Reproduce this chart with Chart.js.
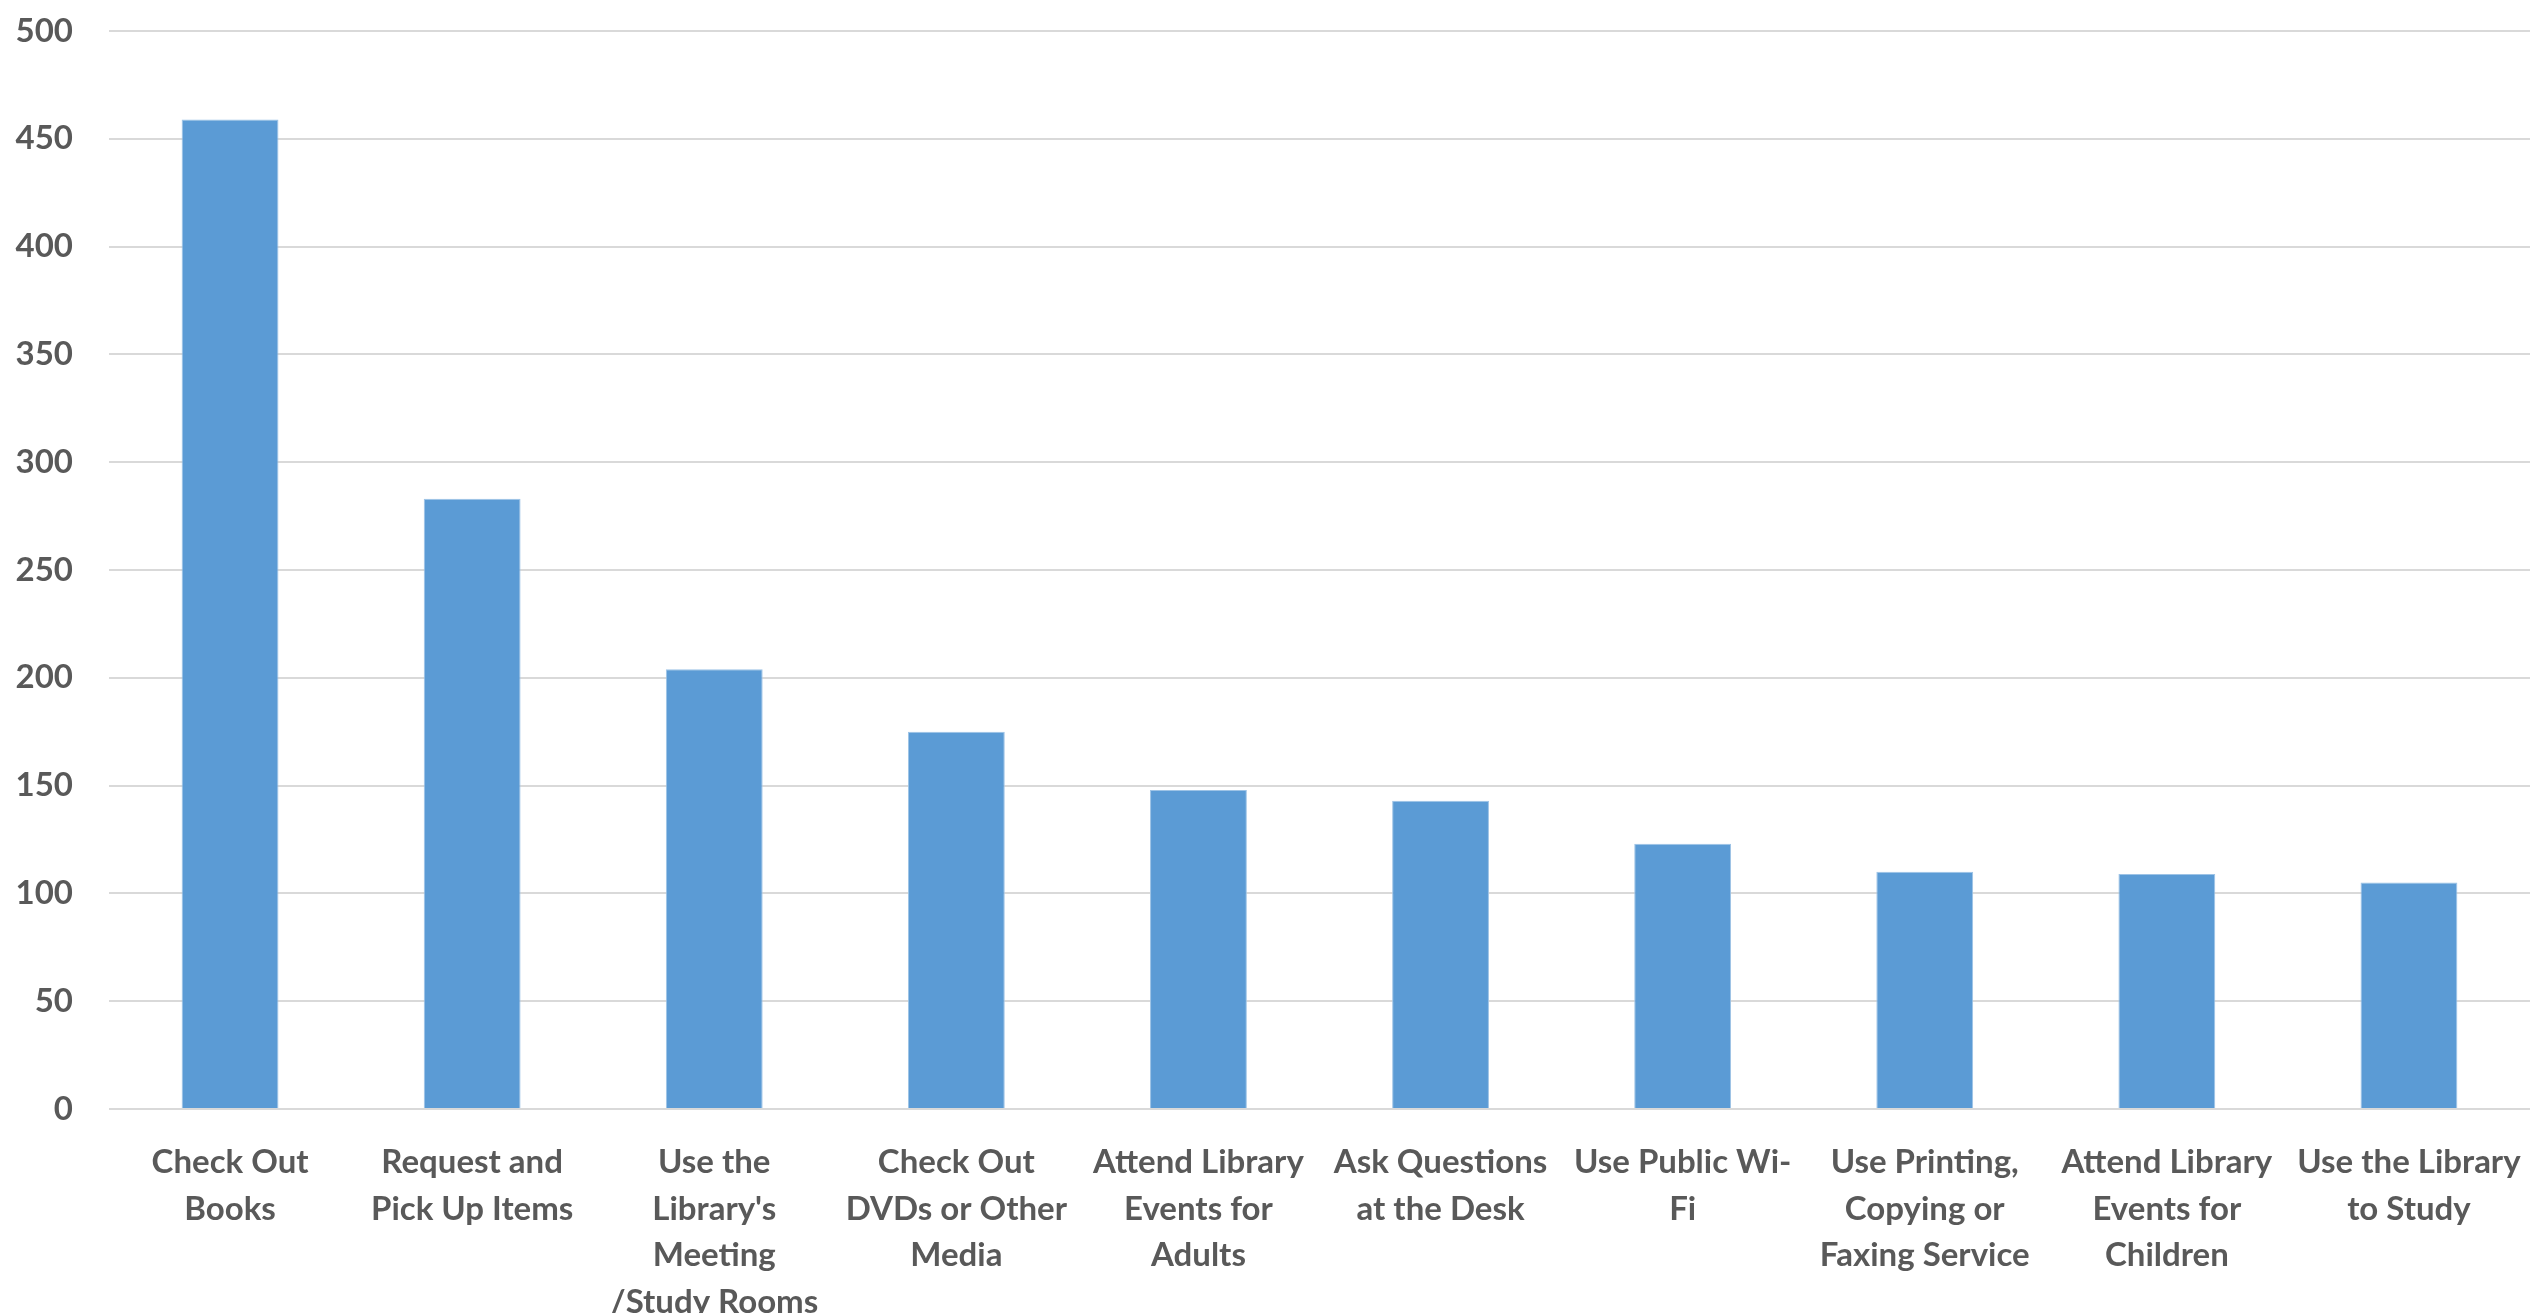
<!DOCTYPE html>
<html>
<head>
<meta charset="utf-8">
<script src="https://cdn.jsdelivr.net/npm/chart.js@4/dist/chart.umd.min.js"></script>
<style>
  html, body { margin: 0; padding: 0; background: #ffffff; }
  #wrap { width: 2539px; height: 1313px; position: relative; }
</style>
</head>
<body>
<div id="wrap"><canvas id="c" width="2539" height="1313"></canvas></div>
<script>
const categories = [
  ["Check Out", "Books"],
  ["Request and", "Pick Up Items"],
  ["Use the", "Library's", "Meeting", "/Study Rooms"],
  ["Check Out", "DVDs or Other", "Media"],
  ["Attend Library", "Events for", "Adults"],
  ["Ask Questions", "at the Desk"],
  ["Use Public Wi-", "Fi"],
  ["Use Printing,", "Copying or", "Faxing Service"],
  ["Attend Library", "Events for", "Children"],
  ["Use the Library", "to Study"]
];
const values = [459, 283, 204, 175, 148, 143, 123, 110, 109, 105];
const yMin = 0;
const yMax = 500;
const yStep = 50;

function draw() {
  const font = { family: 'Lato', weight: 'bold', size: 33, lineHeight: 1.415 };
  new Chart(document.getElementById('c'), {
    type: 'bar',
    data: {
      labels: categories,
      datasets: [{
        data: values,
        backgroundColor: '#5b9bd5',
        borderColor: '#9dc3e6',
        borderWidth: 1,
        categoryPercentage: 1.0,
        barPercentage: 0.4
      }]
    },
    options: {
      responsive: false,
      animation: false,
      layout: { padding: { top: 31, right: 9, left: 0, bottom: 0 } },
      plugins: { legend: { display: false }, tooltip: { enabled: false } },
      scales: {
        x: {
          grid: { display: false },
          border: { display: false },
          ticks: {
            font: font,
            color: '#595959',
            maxRotation: 0,
            minRotation: 0,
            autoSkip: false,
            padding: 22
          },
          afterFit: (s) => { s.height = 204; s.paddingLeft = 0; s.paddingRight = 0; }
        },
        y: {
          min: yMin,
          max: yMax,
          grid: { color: '#d9d9d9', lineWidth: 2, drawTicks: false },
          border: { display: false },
          ticks: {
            stepSize: yStep,
            font: font,
            color: '#595959',
            padding: 36
          },
          afterFit: (s) => { s.width = 109; s.paddingTop = 0; s.paddingBottom = 0; }
        }
      }
    }
  });
}
if (document.fonts && document.fonts.load) {
  document.fonts.load('bold 33px Lato').then(draw, draw);
} else { draw(); }
</script>
</body>
</html>
